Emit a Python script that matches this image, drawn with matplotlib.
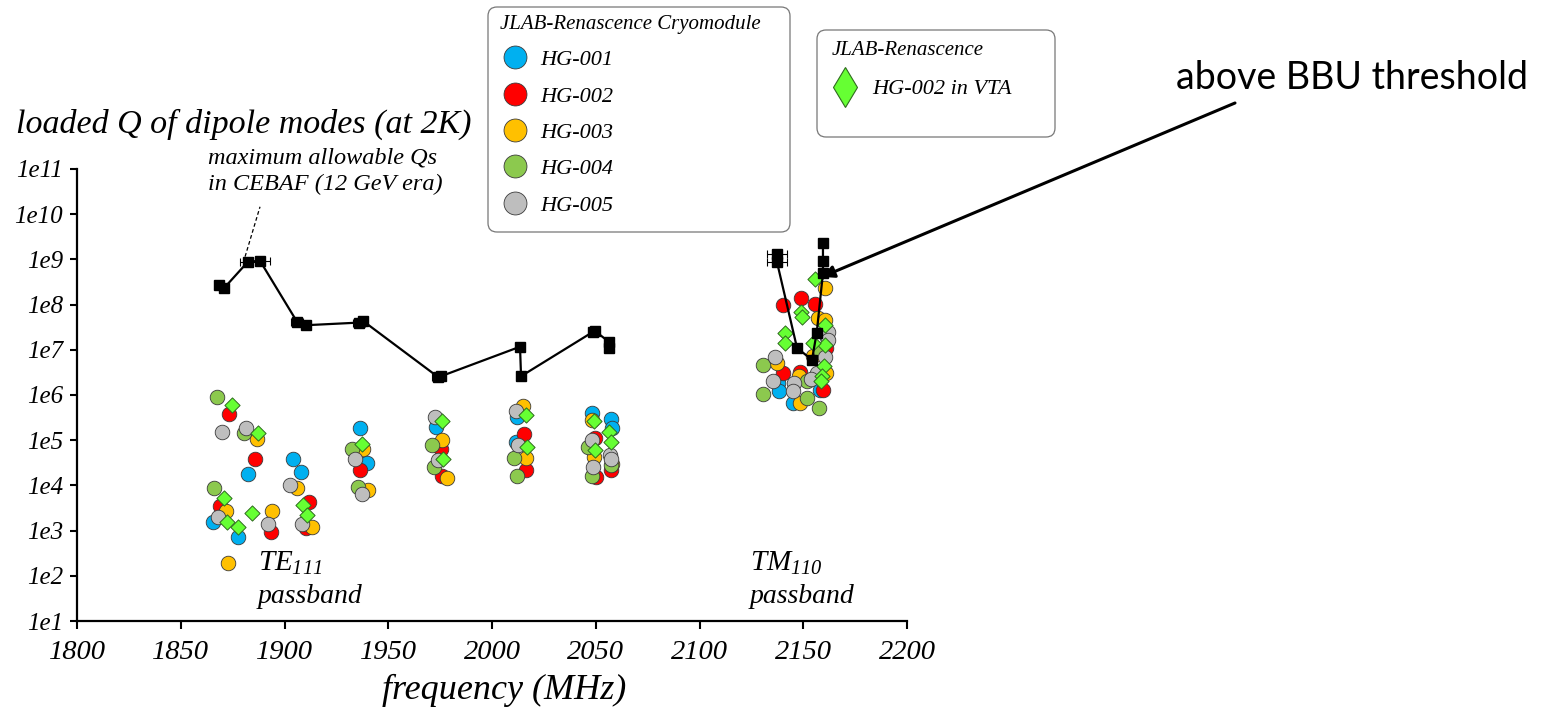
import matplotlib
matplotlib.use("Agg")
import matplotlib.pyplot as plt
from matplotlib.lines import Line2D
from matplotlib.patches import FancyBboxPatch
from matplotlib.transforms import IdentityTransform

W, H = 1547, 710
SERIF = "Liberation Serif"

plt.rcParams["font.family"] = SERIF
plt.rcParams["font.style"] = "italic"
plt.rcParams["mathtext.fontset"] = "custom"
plt.rcParams["mathtext.rm"] = "Liberation Serif:italic"
plt.rcParams["mathtext.it"] = "Liberation Serif:italic"

# measured loaded Q per cavity, frequency in MHz
hg001_f = [1865.7, 1877.7, 1882.6, 1904.2, 1908.0, 1936.4, 1939.6, 1973.0, 2011.9, 2011.4,
           2048.3, 2057.3, 2058.0, 2138.0, 2138.1, 2145.2, 2158.0, 2161.5]
hg001_q = [1.58e3, 735, 1.77e4, 3.8e4, 2.0e4, 1.9e5, 3.2e4, 2.0e5, 3.3e5, 9.3e4,
           4.0e5, 2.9e5, 1.85e5, 1.8e6, 1.2e6, 6.6e5, 1.3e6, 1.9e7]

hg002_f = [1873.4, 1868.9, 1885.8, 1893.5, 1912.0, 1910.4, 1936.4, 1975.4, 1975.8, 2015.6,
           2016.2, 2049.6, 2057.3, 2050.0, 2140.4, 2148.9, 2155.7, 2140.4, 2148.4, 2159.7,
           2161.0]
hg002_q = [3.8e5, 3.5e3, 3.8e4, 950, 4.4e3, 1.12e3, 2.2e4, 6.3e4, 1.6e4, 1.38e5,
           2.2e4, 1.1e5, 2.2e4, 1.5e4, 1.0e8, 1.38e8, 1.05e8, 3.0e6, 3.3e6, 1.27e6,
           1.1e7]

hg003_f = [1886.6, 1871.7, 1893.8, 1905.9, 1913.4, 1872.9, 1938.0, 1940.4, 1976.0, 1978.2,
           2015.1, 2016.2, 2048.0, 2049.3, 2058.0, 2160.5, 2157.0, 2160.5, 2154.8, 2137.2,
           2148.0, 2148.4, 2161.0]
hg003_q = [1.05e5, 2.7e3, 2.7e3, 8.7e3, 1.22e3, 190, 6.3e4, 7.9e3, 1.0e5, 1.45e4,
           5.7e5, 4.0e4, 2.8e5, 4.3e4, 3.0e4, 2.3e8, 5.0e7, 4.6e7, 7.4e6, 5.0e6,
           2.6e6, 6.6e5, 3.0e6]

hg004_f = [1867.3, 1880.6, 1866.2, 1932.4, 1935.3, 1970.9, 1972.2, 2010.7, 2011.9, 2046.4,
           2057.3, 2048.0, 2130.8, 2130.8, 2151.7, 2151.7, 2157.6, 2158.0]
hg004_q = [8.9e5, 1.48e5, 8.7e3, 6.3e4, 9.1e3, 7.9e4, 2.6e4, 4.0e4, 1.6e4, 7.2e4,
           2.8e4, 1.6e4, 4.6e6, 1.07e6, 2.0e6, 8.5e5, 5.1e5, 1.0e7]

hg005_f = [1869.7, 1881.3, 1902.7, 1867.8, 1891.9, 1908.3, 1934.0, 1937.5, 1972.5, 1973.8,
           2011.4, 2012.4, 2048.0, 2056.9, 2048.8, 2057.3, 2136.4, 2135.6, 2145.7, 2145.2,
           2156.5, 2160.5, 2161.8, 2161.8, 2153.5]
hg005_q = [1.55e5, 1.9e5, 1.02e4, 1.98e3, 1.4e3, 1.4e3, 3.8e4, 6.5e3, 3.2e5, 3.7e4,
           4.5e5, 7.9e4, 1.0e5, 4.7e4, 2.5e4, 3.8e4, 7.0e6, 2.0e6, 1.8e6, 1.2e6,
           3.0e6, 7.0e6, 2.5e7, 1.66e7, 2.3e6]

# HG-002 measured in the vertical test area
vta_f = [1874.6, 1887.1, 1871.0, 1872.4, 1877.4, 1884.5, 1909.1, 1911.0, 1937.2, 1976.0,
         1976.5, 2016.2, 2016.7, 2049.2, 2049.6, 2056.5, 2057.3, 2155.7, 2148.9, 2149.5,
         2141.2, 2141.2, 2160.5, 2160.5, 2154.8, 2160.2, 2159.2, 2158.6]
vta_q = [6.0e5, 1.43e5, 5.2e3, 1.58e3, 1.22e3, 2.5e3, 3.6e3, 2.2e3, 8.1e4, 2.6e5,
         3.8e4, 3.6e5, 7.2e4, 2.6e5, 6.1e4, 1.55e5, 8.9e4, 3.7e8, 7.0e7, 5.3e7,
         2.3e7, 1.45e7, 3.5e7, 1.3e7, 1.4e7, 4.4e6, 2.6e6, 2.0e6]

# CEBAF 12 GeV maximum allowable Q
te_lim_f = [1868.4, 1870.8, 1882.4, 1888.2, 1906.0, 1910.4, 1936.0, 1938.0, 1974.0, 1975.4,
            2013.5, 2014.0, 2048.7, 2049.6, 2056.4, 2056.4]
te_lim_q = [2.75e8, 2.3e8, 8.9e8, 9.3e8, 4.2e7, 3.5e7, 4.0e7, 4.3e7, 2.5e6, 2.6e6,
            1.17e7, 2.6e6, 2.5e7, 2.6e7, 1.5e7, 1.1e7]
te_lim_err = [0, 0, 4, 5, 3, 0, 3, 0, 3, 0, 0, 0, 0, 0, 0, 0]
tm_lim_f = [2137.3, 2137.3, 2147.0, 2154.2, 2156.5, 2159.5, 2159.5, 2159.5]
tm_lim_q = [1.35e9, 8.9e8, 1.1e7, 6.0e6, 2.4e7, 5.0e8, 9.0e8, 2.3e9]
tm_lim_err = [5, 5, 0, 0, 0, 0, 0, 0]

x_ticks = [1800, 1850, 1900, 1950, 2000, 2050, 2100, 2150, 2200]
y_exps = list(range(1, 12))
y_labels = ["1e%d" % k for k in y_exps]

series = [
    ("HG-001", hg001_f, hg001_q, "#00B0F0"),
    ("HG-002", hg002_f, hg002_q, "#FF0000"),
    ("HG-003", hg003_f, hg003_q, "#FFC000"),
    ("HG-004", hg004_f, hg004_q, "#8CC94E"),
    ("HG-005", hg005_f, hg005_q, "#BEBEBE"),
]


def fx(px):
    return px / W


def fy(py):
    return 1 - py / H


def main():
    fig = plt.figure(figsize=(W / 100, H / 100), dpi=100)
    ax = fig.add_axes([fx(77), fy(621), 830 / W, 452 / H])

    for name, f, q, c in series:
        ax.scatter(f, q, s=110, color=c, edgecolors="#3a3a3a", linewidths=0.6, zorder=3)
    ax.scatter(vta_f, vta_q, s=60, marker="D", color="#66FF33", edgecolors="#2f6b1f",
               linewidths=0.7, zorder=4)

    for f, q, e in [(te_lim_f, te_lim_q, te_lim_err), (tm_lim_f, tm_lim_q, tm_lim_err)]:
        ax.errorbar(f, q, xerr=e, color="black", lw=1.6, marker="s", ms=7.5,
                    elinewidth=0.8, capsize=3, capthick=0.8, zorder=5)

    ax.plot([1881, 1888.2], [1.15e9, 1.46e10], color="black", lw=0.9, ls=(0, (3, 2)))

    ax.set_yscale("log")
    ax.set_xlim(1800, 2200)
    ax.set_ylim(10, 1e11)
    ax.set_xticks(x_ticks)
    ax.set_xticklabels([str(t) for t in x_ticks], fontsize=20.5)
    ax.set_yticks([10.0 ** k for k in y_exps])
    ax.set_yticklabels(y_labels, fontsize=18)
    ax.minorticks_off()
    ax.tick_params(axis="x", length=6, width=1.5, pad=8)
    ax.tick_params(axis="y", length=5, width=1.5, pad=5)
    for side in ("top", "right"):
        ax.spines[side].set_visible(False)
    for side in ("left", "bottom"):
        ax.spines[side].set_linewidth(1.6)

    ax.text(1887.2, 190, r"$TE_{111}$", fontsize=21, va="center", ha="left")
    ax.text(1887.2, 34, "passband", fontsize=20, va="center", ha="left")
    ax.text(2124.3, 190, r"$TM_{110}$", fontsize=21, va="center", ha="left")
    ax.text(2124.3, 34, "passband", fontsize=20, va="center", ha="left")

    fig.text(fx(16), fy(124), "loaded Q of dipole modes (at 2K)", fontsize=24.5,
             va="center", ha="left")
    fig.text(fx(208), fy(171.5), "maximum allowable Qs\nin CEBAF (12 GeV era)",
             fontsize=17.5, va="center", ha="left", linespacing=1.3)
    fig.text(fx(504), fy(690), "frequency (MHz)", fontsize=26, va="center", ha="center")

    fig.text(fx(1352), fy(89), "above BBU threshold", fontsize=27, family="Lato",
             style="normal", va="baseline", ha="center")
    ax.annotate("", xy=(2159, 4.1e8), xycoords="data",
                xytext=(fx(1235), fy(103)), textcoords="figure fraction",
                arrowprops=dict(arrowstyle="-|>", lw=2.2, color="black", mutation_scale=18,
                                shrinkA=0, shrinkB=0))

    # legend frames
    for x0, y0, x1, y1 in [(488, 7, 790, 232), (817, 30, 1055, 137)]:
        fig.patches.append(FancyBboxPatch(
            (x0, H - y1), x1 - x0, y1 - y0, boxstyle="round,pad=0,rounding_size=9",
            transform=IdentityTransform(), facecolor="white", edgecolor="#777777",
            lw=0.9, zorder=0))

    handles = [Line2D([], [], ls="none", marker="o", ms=16.5, color=c,
                      markeredgecolor="#3a3a3a", markeredgewidth=0.6)
               for _, _, _, c in series]
    fig.legend(handles, [s[0] for s in series], loc="upper left",
               bbox_to_anchor=(fx(491), fy(6)), frameon=False, fontsize=16,
               title="JLAB-Renascence Cryomodule", title_fontsize=15,
               alignment="left", borderpad=0.4, borderaxespad=0,
               handlelength=1.35, handletextpad=0.45, labelspacing=0.71)

    vta_handle = Line2D([], [], ls="none", marker="d", ms=20, color="#66FF33",
                        markeredgecolor="#2f6b1f", markeredgewidth=0.8)
    fig.legend([vta_handle], ["HG-002 in VTA"], loc="upper left",
               bbox_to_anchor=(fx(823), fy(32)), frameon=False, fontsize=16,
               title="JLAB-Renascence", title_fontsize=15, alignment="left",
               borderpad=0.4, borderaxespad=0, handlelength=1.2, handletextpad=0.6,
               labelspacing=0.85)

    fig.savefig("out.png", dpi=100)


if __name__ == "__main__":
    main()
